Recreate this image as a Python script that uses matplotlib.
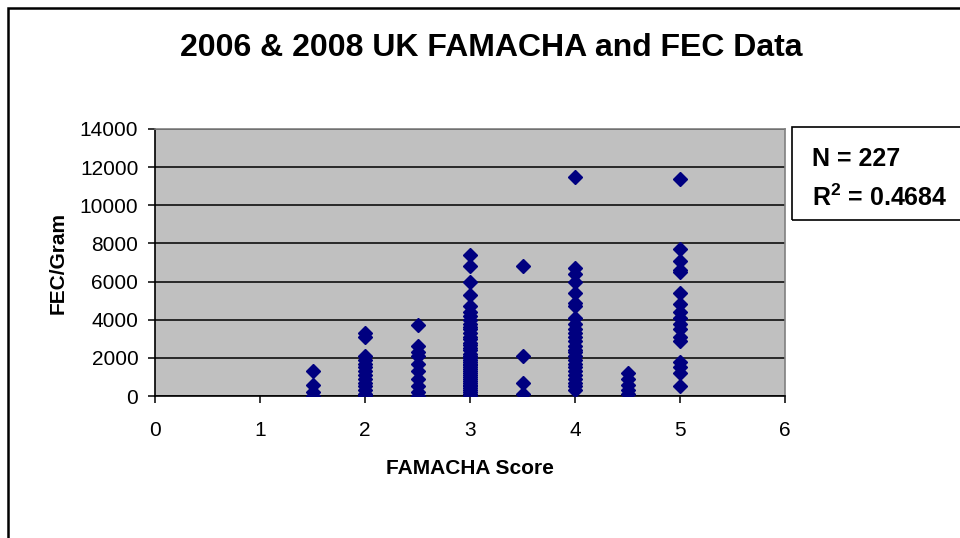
import matplotlib
matplotlib.use("Agg")
import matplotlib.pyplot as plt
from matplotlib.patches import Rectangle

plt.rcParams['font.family'] = ['Liberation Sans', 'DejaVu Sans']
plt.rcParams['mathtext.fontset'] = 'custom'
plt.rcParams['mathtext.rm'] = 'Liberation Sans'
plt.rcParams['mathtext.bf'] = 'Liberation Sans:bold'

# FEC/Gram readings per FAMACHA score
fec_15 = [1300, 600, 200, 0]
fec_20 = [3300, 3100, 2100, 1900, 1700, 1500, 1300, 1100, 900, 700, 500, 300, 100, 0]
fec_25 = [3700, 2600, 2300, 2100, 1700, 1300, 900, 500, 200, 0]
fec_30 = [7400, 6800, 6000, 5300, 4700, 4400, 4200, 4000, 3800, 3600, 3500, 3300,
          3100, 3000, 2800, 2700, 2500, 2400, 2200, 2100, 2000, 1900, 1800, 1700,
          1600, 1500, 1400, 1300, 1200, 1100, 1000, 900, 800, 700, 600, 500, 400,
          300, 200, 100, 0]
fec_35 = [6800, 2100, 700, 100]
fec_40 = [11500, 6700, 6400, 6000, 5400, 4900, 4700, 4100, 3800, 3500, 3300, 3100,
          2900, 2600, 2400, 2300, 2100, 1900, 1700, 1500, 1300, 1100, 900, 700,
          500, 300]
fec_45 = [1200, 900, 600, 300, 100]
fec_50 = [11400, 7700, 7100, 6600, 6500, 5400, 4800, 4400, 4100, 3800, 3500, 3100,
          2900, 1800, 1500, 1200, 500]

scores = [1.5, 2.0, 2.5, 3.0, 3.5, 4.0, 4.5, 5.0]
groups = [fec_15, fec_20, fec_25, fec_30, fec_35, fec_40, fec_45, fec_50]

x_ticks = [0, 1, 2, 3, 4, 5, 6]
y_ticks = [0, 2000, 4000, 6000, 8000, 10000, 12000, 14000]

title = "2006 & 2008 UK FAMACHA and FEC Data"
x_label = "FAMACHA Score"
y_label = "FEC/Gram"
n_text = "N = 227"
r2_text = r"R$^{\mathbf{2}}$ = 0.4684"

fig = plt.figure(figsize=(9.6, 5.38), dpi=100)
fig.patch.set_facecolor('white')

ax = fig.add_axes([155/960, 1 - 396/538, 630/960, 267/538])
ax.set_facecolor('#C0C0C0')

xs, ys = [], []
for s, g in zip(scores, groups):
    xs.extend([s] * len(g))
    ys.extend(g)
ax.plot(xs, ys, linestyle='none', marker='D', markersize=6.8,
        color='#000080', markeredgecolor='#000080', zorder=3)

ax.set_xlim(0, 6)
ax.set_ylim(0, 14000)
ax.set_xticks(x_ticks)
ax.set_yticks(y_ticks)
ax.set_xticklabels([str(v) for v in x_ticks])
ax.set_yticklabels([str(v) for v in y_ticks])
ax.yaxis.grid(True, color='black', linewidth=1.1)
ax.set_axisbelow(True)
ax.tick_params(axis='y', direction='out', length=5, width=1.1, pad=7,
               labelsize=15, colors='black')
ax.tick_params(axis='x', direction='out', length=5, width=1.1, pad=13,
               labelsize=15, colors='black')
for side in ['left', 'bottom']:
    ax.spines[side].set_color('black')
    ax.spines[side].set_linewidth(1.2)
for side in ['top', 'right']:
    ax.spines[side].set_color('#808080')
    ax.spines[side].set_linewidth(1.2)

ax.set_xlabel(x_label, fontsize=15, fontweight='bold', labelpad=14)
ax.set_ylabel(y_label, fontsize=15, fontweight='bold', labelpad=9)

fig.text(491/960, 1 - 48/538, title, ha='center', va='center',
         fontsize=23, fontweight='bold')

# outer chart border
fig.patches.append(Rectangle((8/960, -0.05), 1.1, 1 - 8/538 + 0.05,
                             transform=fig.transFigure, fill=False,
                             edgecolor='black', linewidth=1.8, zorder=0))
# stats box
fig.patches.append(Rectangle((792/960, 1 - 220/538), 0.3, 93/538,
                             transform=fig.transFigure, fill=False,
                             edgecolor='black', linewidth=1.2))
fig.text(812/960, 1 - 159/538, n_text, ha='left', va='center',
         fontsize=18, fontweight='bold')
fig.text(812/960, 1 - 198/538, r2_text, ha='left', va='center',
         fontsize=18, fontweight='bold')

fig.savefig("out.png", dpi=100)
